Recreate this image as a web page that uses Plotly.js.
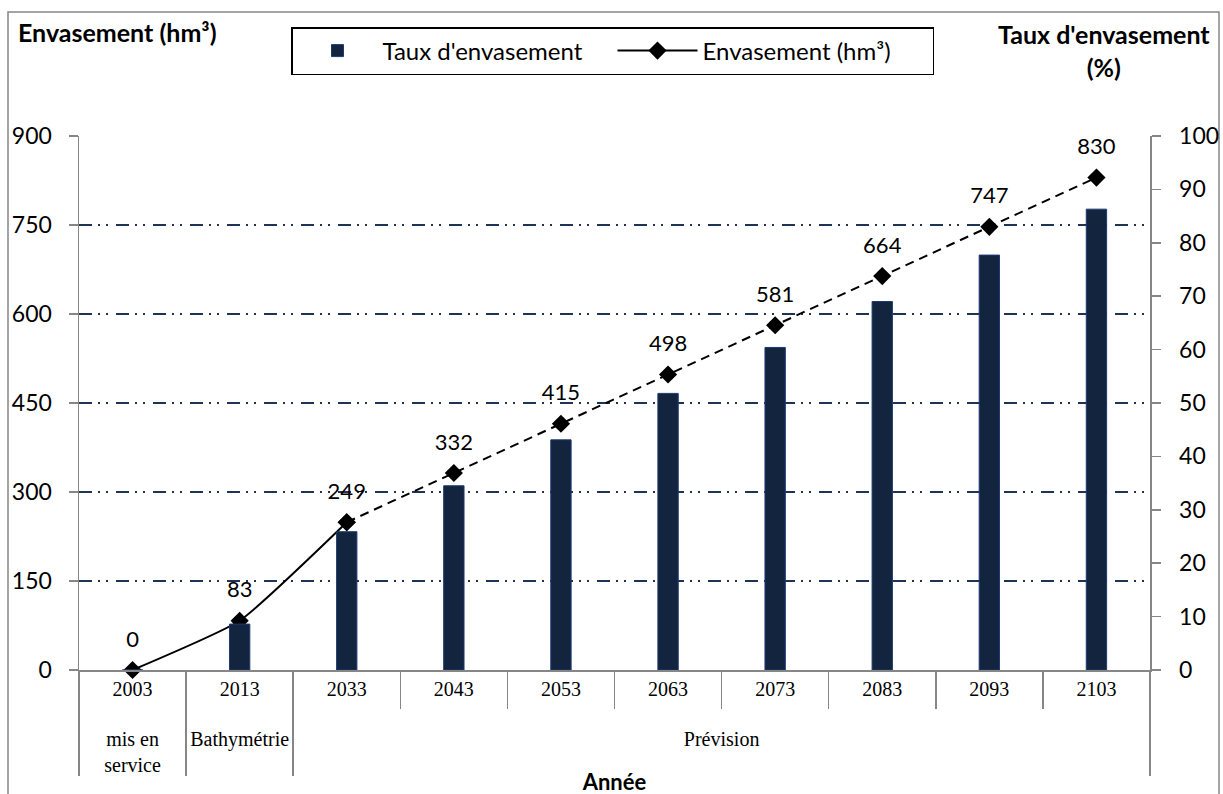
<!DOCTYPE html>
<html>
<head>
<meta charset="utf-8">
<script src="https://cdn.plot.ly/plotly-3.0.1.min.js"></script>
<style>html,body{margin:0;padding:0;background:#fff;}#chart{width:1223px;height:794px;}</style>
</head>
<body>
<div id="chart"></div>
<script>
const years = ['2003','2013','2033','2043','2053','2063','2073','2083','2093','2103'];
const phases = ['mis en<br>service','Bathymétrie','Prévision','Prévision','Prévision','Prévision','Prévision','Prévision','Prévision','Prévision'];
const envasement = [0,83,249,332,415,498,581,664,747,830];
const taux = [0,8.6,25.9,34.5,43.1,51.8,60.4,69.0,77.7,86.3];
const solidEnd = 3; // measured segment (2003-2033) drawn solid, forecast dashed

const SANS = 'Lato, "Open Sans", sans-serif';
const SERIF = '"Liberation Serif", "DejaVu Serif", serif';
const navy = '#13243f';
const grey = '#868686';

// group labels pushed one line lower, as in the reference
const phaseLabels = phases.map(p => '<br>' + p);
const xy = (idx) => [idx.map(i => phaseLabels[i]), idx.map(i => years[i])];
const all = years.map((_, i) => i);
const solidIdx = all.slice(0, solidEnd);
const dashIdx = all.slice(solidEnd - 1);

const traces = [
  {
    type: 'bar', name: "Taux d'envasement",
    x: xy(all), y: taux, yaxis: 'y2', width: 0.19,
    marker: {color: navy, line: {color: '#1d3a72', width: 1}},
    hoverinfo: 'skip'
  },
  {
    type: 'scatter', mode: 'lines+markers', name: 'Envasement (hm³)',
    x: xy(solidIdx), y: solidIdx.map(i => envasement[i]),
    line: {color: '#000', width: 2, shape: 'spline', smoothing: 0.45},
    marker: {symbol: 'diamond', size: 14, color: '#000'},
    hoverinfo: 'skip', cliponaxis: false
  },
  {
    type: 'scatter', mode: 'lines+markers', showlegend: false,
    x: xy(dashIdx), y: dashIdx.map(i => envasement[i]),
    line: {color: '#000', width: 2, dash: '9px,6px'},
    marker: {symbol: 'diamond', size: 14, color: '#000'},
    hoverinfo: 'skip', cliponaxis: false
  },
  {
    type: 'scatter', mode: 'markers+text', showlegend: false,
    x: xy(all), y: envasement,
    text: envasement.map(String), textposition: 'top center',
    textfont: {family: SANS, size: 22, color: '#000'},
    marker: {size: 27, opacity: 0},
    hoverinfo: 'skip', cliponaxis: false
  }
];

const W = 1223, H = 794, L = 79, R = 73, T = 136, B = 124;
const pw = W - L - R, ph = H - T - B;
const px = (x) => (x - L) / pw;
const py = (y) => (H - B - y) / ph;

const layout = {
  width: W, height: H,
  margin: {l: L, r: R, t: T, b: B},
  paper_bgcolor: '#fff', plot_bgcolor: '#fff',
  font: {family: SANS, color: '#000', size: 22},
  showlegend: true,
  xaxis: {
    type: 'multicategory', range: [-0.5, years.length - 0.5], autorange: false,
    tickfont: {family: SERIF, size: 20, color: '#000'},
    showline: true, linecolor: grey, linewidth: 1.5,
    ticks: 'outside', tickson: 'boundaries', ticklen: 37, tickcolor: grey, tickwidth: 1.5,
    showdividers: true, dividercolor: grey, dividerwidth: 1.5,
    showgrid: false, zeroline: false,
    title: {text: '<b>Année</b>', font: {family: SANS, size: 22}, standoff: 0}
  },
  yaxis: {
    range: [0, 900], dtick: 150, tick0: 0, autorange: false,
    showgrid: true, gridcolor: '#1f3356', gridwidth: 1.5, griddash: '13px,6px,2px,6px,2px,8px',
    zeroline: false, showline: true, linecolor: grey, linewidth: 1.5,
    ticks: 'outside', ticklen: 9, tickcolor: grey, tickwidth: 1.5, ticklabelstandoff: 12,
    tickfont: {family: SANS, size: 23, color: '#000'}
  },
  yaxis2: {
    range: [0, 100], dtick: 10, tick0: 0, autorange: false, overlaying: 'y', side: 'right',
    showgrid: false, zeroline: false, showline: true, linecolor: grey, linewidth: 1.5,
    ticks: 'outside', ticklen: 9, tickcolor: grey, tickwidth: 1.5, ticklabelstandoff: 14,
    tickfont: {family: SANS, size: 23, color: '#000'}
  },
  legend: {
    orientation: 'h', x: px(291), y: py(27), xanchor: 'left', yanchor: 'top',
    bordercolor: '#000', borderwidth: 1.5, bgcolor: '#fff',
    font: {family: SANS, size: 24, color: '#000'},
    entrywidth: 225, itemwidth: 80, traceorder: 'normal'
  },
  annotations: [
    {text: '<b>Envasement (hm³)</b>', xref: 'paper', yref: 'paper', x: px(16), y: py(32),
     xanchor: 'left', yanchor: 'middle', showarrow: false, font: {family: SANS, size: 25}},
    {text: "<b>Taux d'envasement<br>(%)</b>", xref: 'paper', yref: 'paper', x: px(1104), y: py(50),
     xanchor: 'center', yanchor: 'middle', align: 'center', showarrow: false, font: {family: SANS, size: 25}}
  ],
  shapes: [
    {type: 'rect', xref: 'paper', yref: 'paper', x0: px(8), x1: px(1219), y0: py(800), y1: py(12),
     line: {color: grey, width: 1.5}, fillcolor: 'rgba(0,0,0,0)', layer: 'below'}
  ]
};

Plotly.newPlot('chart', traces, layout, {staticPlot: true, displayModeBar: false});
</script>
</body>
</html>
